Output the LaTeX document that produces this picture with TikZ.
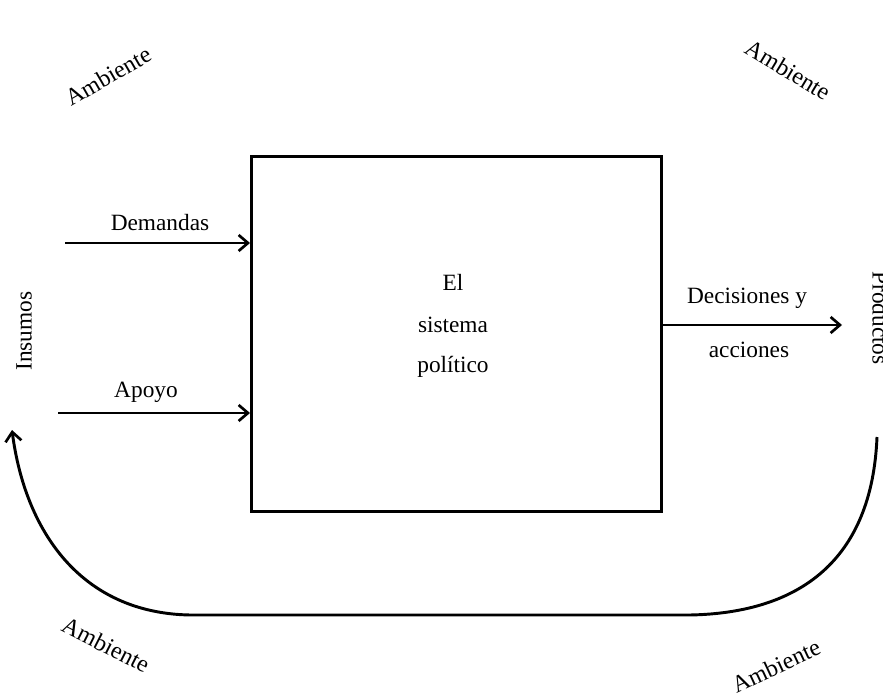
\documentclass[tikz,border=0pt]{standalone}
\usepackage{fontspec}
\setmainfont{Liberation Serif}
\usetikzlibrary{arrows.meta}
\begin{document}
\begin{tikzpicture}[x=0.75pt,y=-0.75pt,
  lbl/.style={font=\fontsize{17.5}{20}\selectfont, inner sep=0pt},
  amb/.style={font=\fontsize{18}{20}\selectfont, inner sep=0pt},
  ln/.style={line width=2.2pt},
  arr/.style={ln, -{Straight Barb[length=7pt,width=12pt,line width=2pt]}}]
\useasboundingbox (0,0) rectangle (883,699);
\node[draw, ln, minimum width=410*0.75pt, minimum height=355*0.75pt, anchor=north west, inner sep=0pt] (sys) at (250,155) {};
\node[lbl] (el) at (453,282) {El};
\node[lbl] (sis) at (453,325) {sistema};
\node[lbl] (pol) at (453,367) {político};
% inputs
\coordinate (d0) at (65,243);
\coordinate (d1) at (250,243);
\coordinate (a0) at (58,413);
\coordinate (a1) at (250,413);
\draw[arr] (d0) -- (d1);
\draw[arr] (a0) -- (a1);
\node[lbl] (dem) at (160,223) {Demandas};
\node[lbl] (apo) at (146,392) {Apoyo};
% output
\coordinate (o0) at (660,325);
\coordinate (o1) at (842,325);
\draw[arr] (o0) -- (o1);
\node[lbl] (dec) at (747,298) {Decisiones y};
\node[lbl] (acc) at (749,350) {acciones};
% side labels
\node[lbl, rotate=90] (ins) at (24,331) {Insumos};
\node[lbl, rotate=-90, anchor=north] (pro) at (889,318) {Productos};
% feedback
\coordinate (f0) at (877,437);
\coordinate (f1) at (690,615);
\coordinate (f2) at (190,615);
\coordinate (f3) at (12,430);
\draw[arr] (f0) .. controls (872,560) and (800,613) .. (f1) -- (f2) .. controls (80,613) and (25,530) .. (f3);
% Ambiente
\node[amb, rotate=30] (amb1) at (108,76) {Ambiente};
\node[amb, rotate=-31] (amb2) at (788,70) {Ambiente};
\node[amb, rotate=-27] (amb3) at (106,645) {Ambiente};
\node[amb, rotate=25] (amb4) at (776,666) {Ambiente};
\end{tikzpicture}
\end{document}
